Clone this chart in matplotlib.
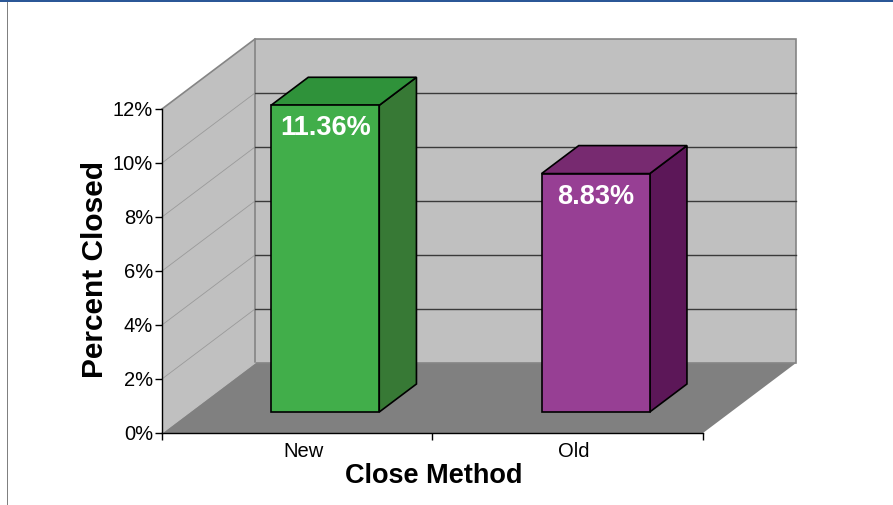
import matplotlib.pyplot as plt
from matplotlib.patches import Polygon, Rectangle
from matplotlib.ticker import FuncFormatter
from matplotlib.transforms import ScaledTranslation

plt.rcParams['font.family'] = ['Liberation Sans', 'DejaVu Sans']

# data
categories = ['New', 'Old']
percent_closed = [0.1136, 0.0883]
bar_labels = ['11.36%', '8.83%']
y_ticks = [0, 0.02, 0.04, 0.06, 0.08, 0.10, 0.12]

front_colors = ['#41ae4a', '#973f94']
top_colors = ['#2f923a', '#772a70']
side_colors = ['#377935', '#5c1758']

W, H = 893, 505
fig = plt.figure(figsize=(W / 100, H / 100), dpi=100)

# front plane of the 3d box in pixels
left, right, bottom, top = 162, 703, 433, 109
ax = fig.add_axes([left / W, (H - bottom) / H, (right - left) / W, (bottom - top) / H])
ax.set_xlim(0, 2)
ax.set_ylim(0, 0.12)
ax.patch.set_visible(False)

# depth vector in data units (93 px right, 70 px up)
DX = 93 / (right - left) * 2
DY = 70 / (bottom - top) * 0.12


def proj(x, y, z):
    return (x + z * DX, y + z * DY)


def face(pts, color, edge='none', lw=0, z=1):
    p = Polygon(pts, closed=True, facecolor=color, edgecolor=edge, linewidth=lw,
                clip_on=False, zorder=z, joinstyle='miter')
    ax.add_patch(p)


ymax = y_ticks[-1]
# walls and floor
face([proj(0, 0, 0), proj(0, ymax, 0), proj(0, ymax, 1), proj(0, 0, 1)], '#c0c0c0', z=0.5)
face([proj(0, 0, 0), proj(2, 0, 0), proj(2, 0, 1), proj(0, 0, 1)], '#808080', z=0.5)
face([proj(0, 0, 1), proj(2, 0, 1), proj(2, ymax, 1), proj(0, ymax, 1)], '#c0c0c0',
     edge='#858585', lw=1.2, z=0.6)

for yv in y_ticks[1:-1]:
    a, b = proj(0, yv, 0), proj(0, yv, 1)
    ax.plot([a[0], b[0]], [a[1], b[1]], color='#9a9a9a', lw=0.6, clip_on=False, zorder=0.7)
    a, b = proj(0, yv, 1), proj(2, yv, 1)
    ax.plot([a[0], b[0]], [a[1], b[1]], color='#3a3a3a', lw=1.0, clip_on=False, zorder=0.7)
a, b = proj(0, ymax, 0), proj(0, ymax, 1)
ax.plot([a[0], b[0]], [a[1], b[1]], color='#858585', lw=1.2, clip_on=False, zorder=0.7)
a, b = proj(0, 0, 0), proj(0, 0, 1)
ax.plot([a[0], b[0]], [a[1], b[1]], color='#c0c0c0', lw=0.8, clip_on=False, zorder=0.7)

# bars
bw = 0.4
z0, z1 = 0.3, 0.7
for i, val in enumerate(percent_closed):
    x0 = i + 0.5 - bw / 2
    x1 = x0 + bw
    face([proj(x1, 0, z0), proj(x1, val, z0), proj(x1, val, z1), proj(x1, 0, z1)],
         side_colors[i], edge='black', lw=1.2, z=2)
    face([proj(x0, val, z0), proj(x1, val, z0), proj(x1, val, z1), proj(x0, val, z1)],
         top_colors[i], edge='black', lw=1.2, z=2)
    face([proj(x0, 0, z0), proj(x1, 0, z0), proj(x1, val, z0), proj(x0, val, z0)],
         front_colors[i], edge='black', lw=1.2, z=3)
    ax.annotate(bar_labels[i], xy=proj(i + 0.5, val, z0), xytext=(0, -23),
                textcoords='offset pixels', ha='center', va='center',
                color='white', fontsize=19.5, fontweight='bold', zorder=4,
                annotation_clip=False)

# axes
for s in ['top', 'right']:
    ax.spines[s].set_visible(False)
ax.spines['left'].set_linewidth(1.0)
ax.spines['bottom'].set_linewidth(1.0)
ax.set_yticks(y_ticks)
ax.yaxis.set_major_formatter(FuncFormatter(lambda v, p: f'{v * 100:.0f}%'))
ax.tick_params(axis='y', length=5, width=1, pad=1.5, labelsize=14.5)
ax.set_xticks([0, 1, 2])
ax.set_xticklabels(['', '', ''])
ax.set_xticks([0.5, 1.5], minor=True)
ax.set_xticklabels(categories, minor=True)
ax.tick_params(axis='x', which='major', length=5, width=1, direction='out')
ax.tick_params(axis='x', which='minor', length=0, pad=6.5, labelsize=14.5)
shift = ScaledTranslation(6 / 100, 0, fig.dpi_scale_trans)
for lab in ax.xaxis.get_minorticklabels():
    lab.set_transform(lab.get_transform() + shift)

fig.text(95 / W, 1 - 270 / H, 'Percent Closed', rotation=90, ha='center', va='center',
         fontsize=21.5, fontweight='bold')
fig.text(434 / W, 1 - 476 / H, 'Close Method', ha='center', va='center',
         fontsize=19.5, fontweight='bold')

# frame of the slide
fig.add_artist(Rectangle((0, 1 - 2 / H), 1, 2 / H, transform=fig.transFigure,
                         facecolor='#2b5797', edgecolor='none'))
fig.add_artist(Rectangle((7 / W, 0), 1.2 / W, 1 - 2 / H, transform=fig.transFigure,
                         facecolor='#808080', edgecolor='none'))

fig.savefig('out.png', dpi=100)
